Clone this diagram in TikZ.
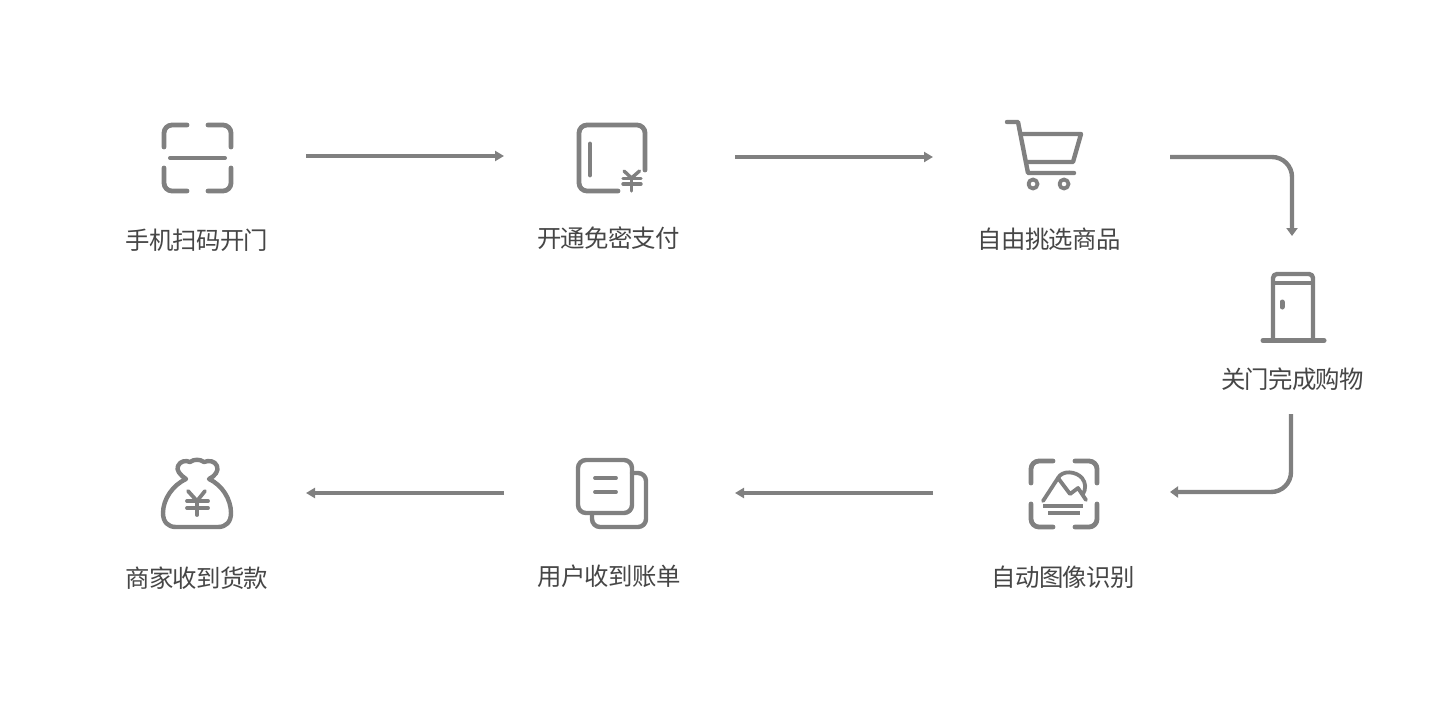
\documentclass[tikz,border=0pt]{standalone}
\usepackage{fontspec}
\newfontfamily\cjk[LetterSpace=-3]{Noto Sans CJK SC}
\usetikzlibrary{arrows.meta}
\definecolor{ig}{HTML}{808080}
\definecolor{tx}{HTML}{464646}
\tikzset{
  icon/.style={draw=ig,line width=4.8pt,line cap=round,line join=round},
  thin icon/.style={icon,line width=3.8pt},
  label/.style={font=\cjk\fontsize{24.4pt}{26pt}\selectfont,text=tx,inner sep=0pt},
  flow/.style={draw=ig,line width=3.4pt,-{Triangle[length=9pt,width=10pt]}},
  bend flow/.style={draw=ig,line width=4.4pt,rounded corners=20pt,-{Triangle[length=8pt,width=11pt]}}
}
\begin{document}
\begin{tikzpicture}[x=1pt,y=-1pt]
\useasboundingbox (0,0) rectangle (1442,709);
\fill[white] (0,0) rectangle (1442,709);
% labels
\node[label] (l1) at (197,240) {手机扫码开门};
\node[label] (l2) at (608.5,238) {开通免密支付};
\node[label] (l3) at (1049,239) {自由挑选商品};
\node[label] (l4) at (1292.5,379) {关门完成购物};
\node[label] (l5) at (1063,577) {自动图像识别};
\node[label] (l6) at (609,576) {用户收到账单};
\node[label] (l7) at (197,578) {商家收到货款};
% connector ends
\coordinate (a1s) at (306,156); \coordinate (a1e) at (504,156);
\coordinate (a2s) at (735,157); \coordinate (a2e) at (933,157);
\coordinate (a3s) at (1170,157); \coordinate (a3e) at (1292,236);
\coordinate (a4s) at (1291,414); \coordinate (a4e) at (1170,492);
\coordinate (a5s) at (933,493); \coordinate (a5e) at (735,493);
\coordinate (a6s) at (504,493); \coordinate (a6e) at (306,493);
\draw[flow] (a1s) -- (a1e);
\draw[flow] (a2s) -- (a2e);
\draw[bend flow] (a3s) -| (a3e);
\draw[bend flow] (a4s) |- (a4e);
\draw[flow] (a5s) -- (a5e);
\draw[flow] (a6s) -- (a6e);
% scan icon
\draw[icon,rounded corners=8pt] (164,147) -- (164,125) -- (187,125);
\draw[icon,rounded corners=8pt] (208,125) -- (231,125) -- (231,147);
\draw[icon,rounded corners=8pt] (164,168) -- (164,191) -- (187,191);
\draw[icon,rounded corners=8pt] (208,191) -- (231,191) -- (231,168);
\draw[icon,line width=4pt] (170,158) -- (225,158);
% pay icon
\draw[icon,rounded corners=8pt] (645,170) -- (645,125) -- (579,125) -- (579,191) -- (618,191);
\draw[icon] (590,144) -- (590,175);
\draw[icon,line width=3.4pt] (624,171) -- (631.5,178) -- (639.5,171);
\draw[icon,line width=3.4pt] (623,178.5) -- (641,178.5) (623,184) -- (641,184) (631.5,178) -- (631.5,191);
% cart icon
\draw[icon,line width=4.4pt] (1007,122) -- (1018,122) -- (1028,173) -- (1074,173);
\draw[icon,line width=4.4pt] (1021,134) -- (1081,134) -- (1073,162) -- (1026,162);
\draw[thin icon] (1033,184) circle (4.5);
\draw[thin icon] (1064,184) circle (4.5);
% door icon
\draw[icon,rounded corners=4pt,line width=4.4pt] (1273,340) -- (1273,274) -- (1313,274) -- (1313,340);
\draw[icon,line width=3.8pt] (1273,283) -- (1313,283);
\draw[icon,line width=5pt] (1263,340.5) -- (1324,340.5);
\draw[icon,line width=5pt] (1282,302) -- (1282,307);
% image recognition icon
\draw[icon,rounded corners=8pt] (1031,483) -- (1031,461) -- (1053,461);
\draw[icon,rounded corners=8pt] (1075,461) -- (1097,461) -- (1097,483);
\draw[icon,rounded corners=8pt] (1031,504) -- (1031,527) -- (1053,527);
\draw[icon,rounded corners=8pt] (1075,527) -- (1097,527) -- (1097,504);
\draw[thin icon] (1043,501) -- (1058,478) -- (1070,494) -- (1078,488) -- (1086,500);
\draw[thin icon] (1058,478) .. controls (1062,470) and (1076,471) .. (1082,478) .. controls (1086,483) and (1086,489) .. (1083,494);
\draw[thin icon,line cap=butt] (1043,506) -- (1083,506);
\draw[thin icon,line cap=butt] (1048,513) -- (1080,513);
% bill icon
\draw[icon,line width=4.4pt,rounded corners=8pt] (578,460) rectangle (632,513);
\draw[icon,line width=4.4pt,rounded corners=8pt] (632,473) -- (646,473) -- (646,527) -- (592,527) -- (592,513);
\draw[thin icon] (595,478) -- (616,478) (595,492) -- (616,492);
% money bag icon
\draw[icon,line width=4.4pt] (186,479) .. controls (180,475) and (176,470) .. (178,466)
  .. controls (180,461) and (186,460) .. (190,462) .. controls (194,459) and (200,459) .. (204,462)
  .. controls (209,460) and (215,461) .. (217,466) .. controls (219,471) and (215,476) .. (209,479)
  .. controls (222,485) and (231,499) .. (231,513) .. controls (231,522) and (226,527) .. (218,527)
  -- (176,527) .. controls (168,527) and (163,522) .. (163,513) .. controls (163,499) and (173,485) .. (186,479) -- cycle;
\draw[thin icon] (188,491) -- (197,501) -- (205,491);
\draw[thin icon] (187,501) -- (208,501) (187,508) -- (208,508) (197,501) -- (197,515);
\end{tikzpicture}
\end{document}
